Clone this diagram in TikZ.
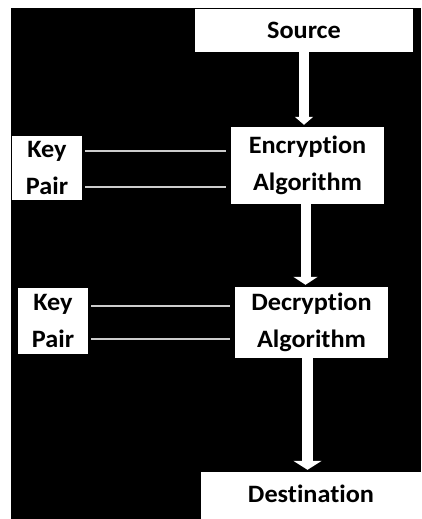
\documentclass[tikz,border=0pt]{standalone}
\usepackage{fontspec}
\setmainfont[Ligatures=NoCommon, FakeStretch=1.05]{Carlito}
\usetikzlibrary{arrows.meta}
\tikzstyle{blk} = [rectangle, fill=white, draw=none, text=black, font=\fontsize{25}{37}\selectfont\bfseries, align=center, inner sep=0pt]
\tikzstyle{keyline} = [draw=white!80!black, line width=1.5pt, shorten <=3pt, shorten >=5pt]
\tikzstyle{flow} = [draw=white, line width=10pt, -{Triangle[width=22pt,length=9pt]}, shorten >=2pt]

\begin{document}
\begin{tikzpicture}[x=1pt, y=-1pt]
\useasboundingbox (0,0) rectangle (421,519);
\fill[white] (0,0) rectangle (421,519);
\fill[black] (11,8) rectangle (421,519);

\node [blk, minimum width=218pt, minimum height=43pt] (src) at (304,30.5) {Source};
\node [blk, minimum width=153pt, minimum height=77pt] (enc) at (307.5,165.5) {Encryption\\Algorithm};
\node [blk, minimum width=70pt, minimum height=64pt] (keyA) at (47,168) {Key\\Pair};
\node [blk, minimum width=153pt, minimum height=71pt] (dec) at (311.5,322.5) {Decryption\\Algorithm};
\node [blk, minimum width=70pt, minimum height=66pt] (keyB) at (53,321) {Key\\Pair};
\node [blk, minimum width=220pt, minimum height=47pt] (dst) at (311,495.5) {\raisebox{4pt}{Destination}};

% flow between the stages
\draw [flow, -{Triangle[width=18pt,length=8pt]}] (src.south) -- (src.south |- enc.north);
\draw [flow, -{Triangle[width=24pt,length=8pt]}] ([xshift=-2pt]enc.south) -- ([xshift=-2pt]enc.south |- dec.north);
\draw [flow, line width=11pt, -{Triangle[width=28pt,length=9pt]}] ([xshift=-4pt]dec.south) -- ([xshift=-4pt]dec.south |- dst.north);

% key pair lines
\draw [keyline] ([yshift=-19pt]keyA.east) -- ([yshift=-19pt]keyA.east -| enc.west);
\draw [keyline] ([yshift=17pt]keyA.east) -- ([yshift=17pt]keyA.east -| enc.west);
\draw [keyline] ([yshift=-18pt]keyB.east) -- ([yshift=-18pt]keyB.east -| dec.west);
\draw [keyline] ([yshift=15pt]keyB.east) -- ([yshift=15pt]keyB.east -| dec.west);
\end{tikzpicture}
\end{document}
